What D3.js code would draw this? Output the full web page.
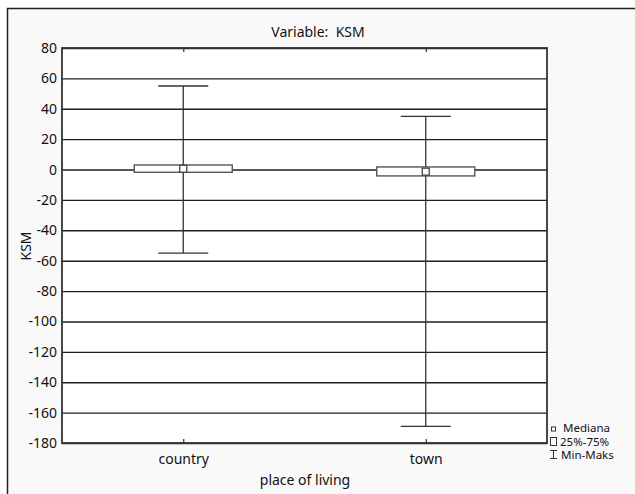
<!DOCTYPE html>
<html>
<head>
<meta charset="utf-8">
<script src="https://cdn.jsdelivr.net/npm/d3@7"></script>
<style>
  body { margin: 0; background: #fff; }
  text { font-family: "Noto Sans", sans-serif; fill: #111; }
</style>
</head>
<body>
<div id="chart"></div>
<script>
// values
const categories = ['country', 'town']
const maxVals = [55, 35]
const q3Vals = [3, 1.7]
const medians = [0.5, -1.4]
const q1Vals = [-1.8, -4.2]
const minVals = [-55, -169]
const yTicks = [80, 60, 40, 20, 0, -20, -40, -60, -80, -100, -120, -140, -160, -180]
const legendLabels = ['Mediana', '25%-75%', 'Min-Maks']

const width = 635,
  height = 494
const plot = { left: 62, right: 547, top: 48, bottom: 443 }
const fontSize = 14

const svg = d3.select('#chart')
  .append('svg')
  .attr('width', width)
  .attr('height', height)

// outer frame
svg.append('rect')
  .attr('x', 7.5).attr('y', 8.5)
  .attr('width', 700).attr('height', 600)
  .attr('fill', '#f9f9f9')
  .attr('stroke', '#222')
  .attr('stroke-width', 1.5)

svg.append('rect')
  .attr('x', plot.left).attr('y', plot.top)
  .attr('width', plot.right - plot.left)
  .attr('height', plot.bottom - plot.top)
  .attr('fill', '#fff')

const x = d3.scalePoint()
  .domain(categories)
  .range([plot.left, plot.right])
  .padding(0.5)

const y = d3.scaleLinear()
  .domain([-180, 80])
  .range([plot.bottom, plot.top])

// gridlines + y labels (plain hyphen for negatives)
svg.append('g')
  .attr('transform', `translate(${plot.left},0)`)
  .call(d3.axisLeft(y).tickValues(yTicks).tickSize(-(plot.right - plot.left)).tickPadding(5).tickFormat(d => String(d)))
  .call(g => g.select('.domain').remove())
  .call(g => g.selectAll('line').attr('stroke', '#1e1e1e').attr('stroke-width', 1.4))
  .call(g => g.selectAll('text').attr('font-size', fontSize).attr('fill', '#111').attr('font-family', '"Noto Sans", sans-serif'))

// bottom and top axes with inward ticks
svg.append('g')
  .attr('transform', `translate(0,${plot.bottom})`)
  .call(d3.axisBottom(x).tickSize(-4).tickPadding(11))
  .call(g => g.select('.domain').remove())
  .call(g => g.selectAll('line').attr('stroke', '#333').attr('stroke-width', 1.2))
  .call(g => g.selectAll('text').attr('font-size', fontSize).attr('fill', '#111').attr('font-family', '"Noto Sans", sans-serif'))

svg.append('g')
  .attr('transform', `translate(0,${plot.top})`)
  .call(d3.axisTop(x).tickSize(-4).tickFormat(''))
  .call(g => g.select('.domain').remove())
  .call(g => g.selectAll('line').attr('stroke', '#333').attr('stroke-width', 1.2))

// plot border
svg.append('rect')
  .attr('x', plot.left).attr('y', plot.top)
  .attr('width', plot.right - plot.left)
  .attr('height', plot.bottom - plot.top)
  .attr('fill', 'none')
  .attr('stroke', '#333')
  .attr('stroke-width', 1.8)

const data = categories.map((c, i) => ({
  cat: c, max: maxVals[i], q3: q3Vals[i], med: medians[i], q1: q1Vals[i], min: minVals[i]
}))

const boxHalf = 49, capHalf = 25, medSize = 7

const grp = svg.selectAll('.box')
  .data(data)
  .enter()
  .append('g')
  .attr('class', 'box')

grp.append('line')
  .attr('x1', d => x(d.cat)).attr('x2', d => x(d.cat))
  .attr('y1', d => y(d.max)).attr('y2', d => y(d.min))
  .attr('stroke', '#333').attr('stroke-width', 1.3)

grp.selectAll('.cap')
  .data(d => [{ c: d.cat, v: d.max }, { c: d.cat, v: d.min }])
  .enter()
  .append('line')
  .attr('x1', d => x(d.c) - capHalf).attr('x2', d => x(d.c) + capHalf)
  .attr('y1', d => y(d.v)).attr('y2', d => y(d.v))
  .attr('stroke', '#333').attr('stroke-width', 1.3)

grp.append('rect')
  .attr('x', d => x(d.cat) - boxHalf)
  .attr('y', d => y(d.q3))
  .attr('width', boxHalf * 2)
  .attr('height', d => y(d.q1) - y(d.q3))
  .attr('fill', '#fff')
  .attr('stroke', '#555').attr('stroke-width', 1.4)

grp.append('rect')
  .attr('x', d => x(d.cat) - medSize / 2)
  .attr('y', d => y(d.med) - medSize / 2)
  .attr('width', medSize).attr('height', medSize)
  .attr('fill', '#fff')
  .attr('stroke', '#444').attr('stroke-width', 1.3)

// title and axis labels
svg.append('text')
  .attr('x', 318).attr('y', 37)
  .attr('text-anchor', 'middle')
  .attr('font-size', fontSize)
  .attr('xml:space', 'preserve')
  .text('Variable:  KSM')

svg.append('text')
  .attr('x', 305).attr('y', 485)
  .attr('text-anchor', 'middle')
  .attr('font-size', fontSize)
  .text('place of living')

svg.append('text')
  .attr('transform', 'translate(31,246) rotate(-90)')
  .attr('text-anchor', 'middle')
  .attr('font-size', fontSize)
  .text('KSM')

// legend, tight lines so a compact font is used
const legendY = [432, 445.5, 459]
const legend = svg.append('g')
legend.append('rect')
  .attr('x', 551.5).attr('y', legendY[0] - 5).attr('width', 4).attr('height', 4)
  .attr('fill', '#fff').attr('stroke', '#333').attr('stroke-width', 1)
legend.append('rect')
  .attr('x', 550.5).attr('y', legendY[1] - 8).attr('width', 6).attr('height', 8)
  .attr('fill', '#fff').attr('stroke', '#333').attr('stroke-width', 1)
legend.append('path')
  .attr('d', `M550,${legendY[2] - 8.5}H557M553.5,${legendY[2] - 8.5}V${legendY[2] - 0.5}M550,${legendY[2] - 0.5}H557`)
  .attr('stroke', '#333').attr('fill', 'none').attr('stroke-width', 1)
const legendX = [563, 560, 561]
legend.selectAll('.lt')
  .data(legendLabels)
  .enter()
  .append('text')
  .attr('x', (d, i) => legendX[i])
  .attr('y', (d, i) => legendY[i])
  .attr('font-family', '"DejaVu Sans", sans-serif')
  .attr('font-size', 11.5)
  .text(d => d)
</script>
</body>
</html>
